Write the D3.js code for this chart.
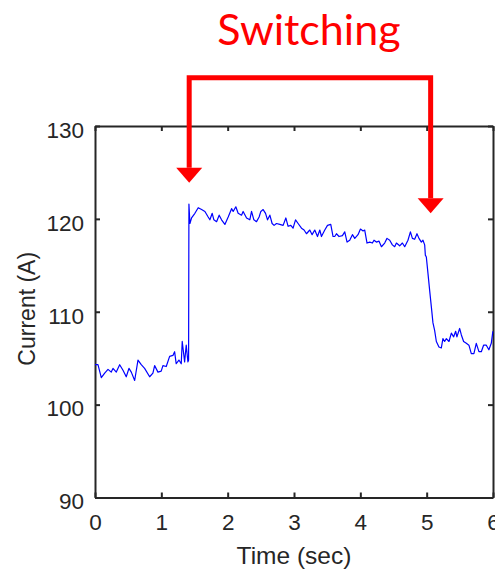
<!DOCTYPE html>
<html>
<head>
<meta charset="utf-8">
<script src="https://cdn.jsdelivr.net/npm/d3@7"></script>
<style>
  html, body { margin: 0; padding: 0; background: #fff; }
  svg { display: block; }
</style>
</head>
<body>
<svg id="chart" width="495" height="569"></svg>
<script>
// ---- data ----
const timeSec = [
  0.00,0.045,0.095,0.146,0.196,0.245,0.271,0.321,0.372,0.422,0.471,0.512,0.547,0.598,0.648,0.697,0.748,0.824,0.873,0.899,0.949,0.998,1.024,1.074,1.125,1.175,1.200,1.224,1.265,1.300,1.315,1.351,1.375,1.401,1.411,
  1.416,1.431,1.456,1.506,1.556,1.607,1.657,1.706,1.732,1.767,1.792,1.833,1.872,1.908,1.958,2.008,2.059,2.083,2.123,2.158,2.209,2.233,2.285,2.334,2.360,2.395,2.435,2.474,
  2.500,2.535,2.571,2.601,2.636,2.670,2.700,2.736,2.786,2.836,2.877,2.911,2.952,2.986,3.023,3.062,3.113,3.152,3.188,3.238,3.273,3.313,3.354,3.389,3.414,3.464,3.505,3.554,3.589,
  3.614,3.640,3.679,3.730,3.765,3.800,3.840,3.881,3.916,3.965,4.002,4.041,4.066,4.101,4.142,4.182,4.206,4.242,4.282,4.318,4.367,4.402,4.443,4.483,4.518,4.544,4.593,4.634,4.669,4.718,4.755,4.785,4.819,4.854,4.884,4.920,4.944,4.970,
  4.980,4.995,5.020,5.045,5.071,5.095,5.120,5.146,5.185,5.221,5.245,5.271,5.297,5.336,5.372,5.407,5.437,5.456,5.497,5.523,5.557,5.598,5.637,5.673,5.712,5.748,5.788,5.824,5.858,5.899,5.938,5.974,5.998
];
const currentA = [
  104.3,104.3,102.9,103.4,103.8,103.5,103.9,103.5,104.3,103.7,103.0,103.9,103.5,102.6,104.8,104.3,103.9,103.0,103.4,104.2,103.5,103.6,104.2,104.1,105.2,105.3,105.7,104.4,104.8,104.4,106.8,104.6,106.4,104.6,104.8,
  121.6,119.5,120.1,120.6,121.2,121.0,120.8,120.2,119.9,120.6,119.9,119.7,120.4,119.9,119.4,120.2,121.1,120.8,121.3,120.6,120.4,120.8,120.1,119.9,120.8,119.9,119.7,120.2,
  120.8,121.0,120.6,119.9,120.4,119.5,119.3,119.5,119.4,119.3,120.1,119.2,119.3,119.0,119.9,119.5,119.0,118.8,118.4,118.8,118.3,118.8,118.1,118.8,118.1,118.8,119.3,119.4,118.1,
  118.1,118.4,118.1,118.2,118.6,117.5,117.7,118.3,117.9,118.3,118.9,118.7,118.8,117.4,117.5,117.4,117.7,117.5,117.6,117.0,117.4,117.9,117.7,117.2,117.0,117.4,117.1,117.4,117.0,117.7,118.6,117.9,117.8,118.4,117.9,117.5,117.7,117.2,
  116.1,115.9,114.1,112.3,110.5,108.8,108.0,106.8,106.2,106.1,107.1,106.8,107.1,106.8,107.7,107.3,107.9,107.3,108.2,107.5,106.8,106.6,106.4,105.5,105.5,106.6,105.7,105.7,106.4,106.4,105.9,106.6,107.9
];
const xTicks = [0, 1, 2, 3, 4, 5, 6];
const yTicks = [90, 100, 110, 120, 130];
const xDomain = [0, 6];
const yDomain = [90, 130];
const xLabel = "Time (sec)";
const yLabel = "Current (A)";
const annotationText = "Switching";
// switching bracket, in data units
const switchTimes = [1.42, 5.06];
const bracketTop = 135.2;
const arrowTips = [123.9, 120.6];

// ---- drawing ----
const svg = d3.select("#chart");
const axisColor = "#262626";
const x = d3.scaleLinear().domain(xDomain).range([95, 493]);
const y = d3.scaleLinear().domain(yDomain).range([497.5, 126]);
const font = "'Liberation Sans', Arial, Helvetica, sans-serif";

const pts = timeSec.map((t, i) => [t, currentA[i]]);
const line = d3.line().x(d => x(d[0])).y(d => y(d[1]));

// axes (box with inward ticks)
const tickLen = 5;
const gBottom = svg.append("g").attr("transform", `translate(0,${y(yDomain[0])})`)
  .call(d3.axisBottom(x).tickValues(xTicks).tickSizeInner(-tickLen).tickSizeOuter(0).tickPadding(17).tickFormat(d3.format("d")));
const gTop = svg.append("g").attr("transform", `translate(0,${y(yDomain[1])})`)
  .call(d3.axisTop(x).tickValues(xTicks).tickSizeInner(-tickLen).tickSizeOuter(0).tickFormat(""));
const gLeft = svg.append("g").attr("transform", `translate(${x(xDomain[0])},0)`)
  .call(d3.axisLeft(y).tickValues(yTicks).tickSizeInner(-tickLen).tickSizeOuter(0).tickPadding(11).tickFormat(d3.format("d")));
const gRight = svg.append("g").attr("transform", `translate(${x(xDomain[1])},0)`)
  .call(d3.axisRight(y).tickValues(yTicks).tickSizeInner(-tickLen).tickSizeOuter(0).tickFormat(""));

[gBottom, gTop, gLeft, gRight].forEach(g => {
  g.select(".domain").attr("stroke", axisColor).attr("stroke-width", 2);
  g.selectAll(".tick line").attr("stroke", axisColor).attr("stroke-width", 2);
  g.selectAll("text").attr("fill", axisColor).style("font-family", font).style("font-size", "22.5px");
});
gLeft.selectAll(".tick text").attr("dy", "0.5em");
gBottom.selectAll(".tick text").attr("dy", "0.71em");

svg.append("path")
  .datum(pts)
  .attr("d", line)
  .attr("fill", "none")
  .attr("stroke", "#0000ff")
  .attr("stroke-width", 1.2)
  .attr("stroke-linejoin", "round");

// axis titles
svg.append("text")
  .attr("x", (x(xDomain[0]) + x(xDomain[1])) / 2)
  .attr("y", 564)
  .attr("text-anchor", "middle")
  .attr("fill", axisColor)
  .style("font-family", font).style("font-size", "24.5px")
  .text(xLabel);
svg.append("text")
  .attr("transform", `translate(35,${(y(yDomain[0]) + y(yDomain[1])) / 2 - 3}) rotate(-90)`)
  .attr("text-anchor", "middle")
  .attr("fill", axisColor)
  .style("font-family", font).style("font-size", "23px")
  .text(yLabel);

// annotation: bracket with arrows
const red = "#ff0000";
const xl = x(switchTimes[0]), xr = x(switchTimes[1]);
const ah = 15, aw = 13;
svg.append("path")
  .attr("d", d3.line()([[xl, y(arrowTips[0]) - ah], [xl, y(bracketTop)], [xr, y(bracketTop)], [xr, y(arrowTips[1]) - ah]]))
  .attr("fill", "none").attr("stroke", red).attr("stroke-width", 5).attr("stroke-linejoin", "miter");
switchTimes.forEach((t, i) => {
  const cx = x(t), tip = y(arrowTips[i]);
  svg.append("path")
    .attr("d", d3.line()([[cx - aw, tip - ah], [cx + aw, tip - ah], [cx, tip]]) + "Z")
    .attr("fill", red);
});
svg.append("text")
  .attr("x", (xl + xr) / 2 - 1)
  .attr("y", 45)
  .attr("text-anchor", "middle")
  .attr("fill", red)
  .style("font-family", "Lato, 'Open Sans', sans-serif")
  .style("font-size", "43px")
  .text(annotationText);
</script>
</body>
</html>
